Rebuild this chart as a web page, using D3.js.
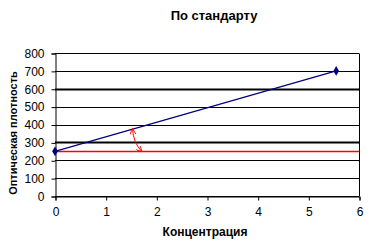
<!DOCTYPE html>
<html>
<head>
<meta charset="utf-8">
<script src="https://cdn.jsdelivr.net/npm/d3@7"></script>
<style>
  body { margin: 0; background: #fff; }
  text { font-family: Arial, "Liberation Sans", sans-serif; }
</style>
</head>
<body>
<svg width="378" height="242"></svg>
<script>
// values
var concentration = [0, 5.55];
var density = [250, 700];
var baseLevel = 250;
var arrowFrom = [1.53, 375];
var arrowTo = [1.71, 250];
var xTicks = [0, 1, 2, 3, 4, 5, 6];
var yTicks = [0, 100, 200, 300, 400, 500, 600, 700, 800];
var heavyGrid = [300, 600]; // these print heavier in the original

var svg = d3.select("svg"),
    margin = {left: 55, right: 19, top: 53, bottom: 46},
    width = +svg.attr("width") - margin.left - margin.right,
    height = +svg.attr("height") - margin.top - margin.bottom;

var x = d3.scaleLinear().domain([0, 6]).range([0, width]);
var y = d3.scaleLinear().domain([0, 800]).range([height, 0]);

var g = svg.append("g")
    .attr("transform", "translate(" + margin.left + "," + margin.top + ")");

// horizontal gridlines
g.append("g").selectAll("line")
  .data(yTicks)
  .enter().append("line")
    .attr("x1", 0).attr("x2", width)
    .attr("y1", function(d) { return Math.round(y(d)) + 0.5; })
    .attr("y2", function(d) { return Math.round(y(d)) + 0.5; })
    .style("stroke", "#000")
    .style("stroke-width", function(d) { return heavyGrid.indexOf(d) >= 0 ? 1.8 : 1; });

// right border
g.append("line")
  .attr("x1", width + 0.5).attr("x2", width + 0.5)
  .attr("y1", 0.5).attr("y2", height + 0.5)
  .style("stroke", "#000");

var yAxis = g.append("g")
  .attr("transform", "translate(0.5,0.5)")
  .call(d3.axisLeft(y).tickValues(yTicks).tickSize(4).tickPadding(7));

var xAxis = g.append("g")
  .attr("transform", "translate(0.5," + (Math.round(height) + 0.5) + ")")
  .call(d3.axisBottom(x).tickValues(xTicks).tickFormat(d3.format("d")).tickSize(4).tickPadding(7));

[yAxis, xAxis].forEach(function(ax) {
  ax.select(".domain").style("stroke", "#000");
  ax.selectAll(".tick line").style("stroke", "#000");
  ax.selectAll("text")
    .style("font-size", "12px")
    .style("fill", "#000")
    .style("font-family", "Arial, 'Liberation Sans', sans-serif");
});

// red reference level
g.append("line")
  .attr("x1", x(0)).attr("x2", width)
  .attr("y1", Math.round(y(baseLevel)) + 0.5)
  .attr("y2", Math.round(y(baseLevel)) + 0.5)
  .style("stroke", "#ff0000")
  .style("stroke-width", 1.3);

// data series
var pts = concentration.map(function(c, i) { return [c, density[i]]; });

g.append("path")
  .datum(pts)
  .attr("d", d3.line().x(function(d) { return x(d[0]); }).y(function(d) { return y(d[1]); }))
  .style("fill", "none")
  .style("stroke", "#000080")
  .style("stroke-width", 1.2);

g.selectAll(".pt")
  .data(pts)
  .enter().append("path")
    .attr("class", "pt")
    .attr("d", d3.symbol().type(d3.symbolDiamond).size(28))
    .attr("transform", function(d) { return "translate(" + x(d[0]) + "," + y(d[1]) + ")"; })
    .style("fill", "#000080");

// double arrow
svg.append("defs").selectAll("marker")
  .data(["head"])
  .enter().append("marker")
    .attr("id", String)
    .attr("viewBox", "0 -5 10 10")
    .attr("refX", 9)
    .attr("refY", 0)
    .attr("markerWidth", 6)
    .attr("markerHeight", 6)
    .attr("markerUnits", "userSpaceOnUse")
    .attr("orient", "auto-start-reverse")
  .append("path")
    .attr("d", "M0,-5L10,0L0,5")
    .style("fill", "none")
    .style("stroke", "#ff0000")
    .style("stroke-width", 1.5);

var ax0 = x(arrowFrom[0]), ay0 = y(arrowFrom[1]),
    ax1 = x(arrowTo[0]), ay1 = y(arrowTo[1]);
g.append("path")
  .attr("d", "M" + ax0 + "," + ay0 + "Q" + (ax0 + 1) + "," + ((ay0 + ay1) / 2 + 3) + " " + ax1 + "," + ay1)
  .style("fill", "none")
  .style("stroke", "#ff0000")
  .style("stroke-width", 1)
  .attr("marker-start", "url(#head)")
  .attr("marker-end", "url(#head)");

// titles
svg.append("text")
  .attr("x", 214).attr("y", 20)
  .attr("text-anchor", "middle")
  .style("font-size", "13px")
  .style("font-weight", "bold")
  .text("По стандарту");

svg.append("text")
  .attr("x", 205).attr("y", 236)
  .attr("text-anchor", "middle")
  .style("font-size", "12px")
  .style("font-weight", "bold")
  .text("Концентрация");

svg.append("text")
  .attr("transform", "translate(17,133) rotate(-90)")
  .attr("text-anchor", "middle")
  .style("font-size", "11px")
  .style("font-weight", "bold")
  .text("Оптическая плотность");
</script>
</body>
</html>
